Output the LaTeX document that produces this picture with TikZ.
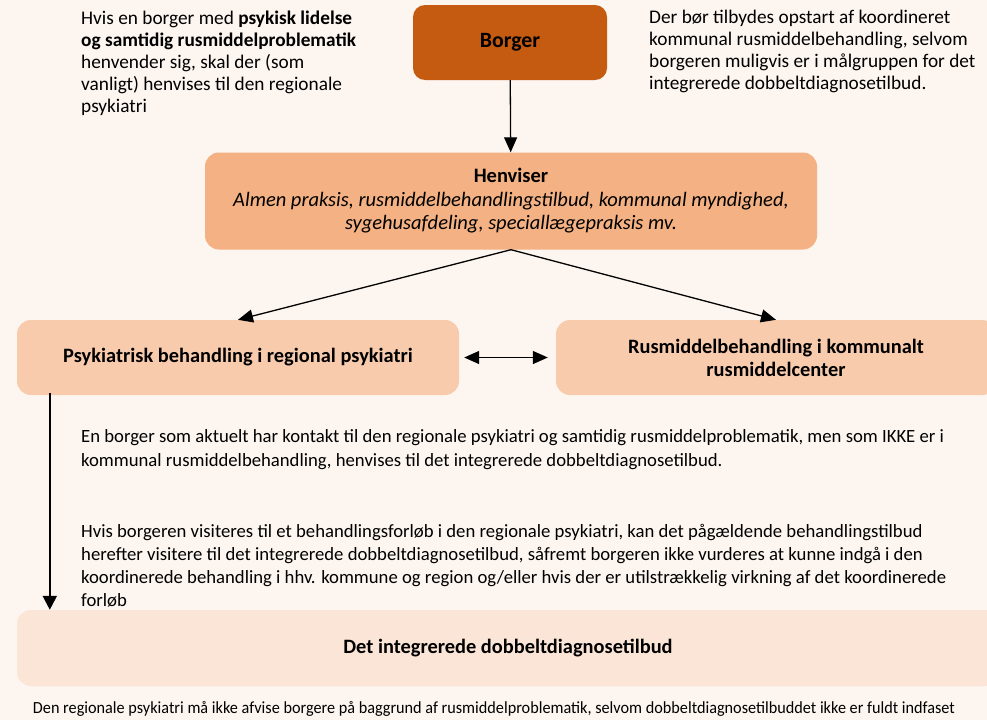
\documentclass[tikz,border=0pt]{standalone}
\usepackage{fontspec}
\setmainfont{Carlito}
\usetikzlibrary{arrows.meta,calc}
\definecolor{bg}{HTML}{FDF5EF}
\definecolor{cborger}{HTML}{C55A11}
\definecolor{chenv}{HTML}{F4B183}
\definecolor{cmid}{HTML}{F8CBAD}
\definecolor{cbot}{HTML}{FBE5D6}
\tikzset{
  box/.style={rectangle, rounded corners=14pt, draw=none, align=center, inner sep=0pt},
  note/.style={anchor=north west, align=left, inner sep=0pt, font=\fontsize{19.3}{22}\selectfont},
  arr/.style={line width=1.3pt, -{Triangle[length=15pt,width=13pt]}},
  darr/.style={line width=1.3pt, {Triangle[length=15pt,width=13pt]}-{Triangle[length=15pt,width=13pt]}},
}
\begin{document}
\begin{tikzpicture}[x=1pt,y=-1pt]
\fill[bg] (0,0) rectangle (987,720);
\useasboundingbox (0,0) rectangle (987,720);

\node[box, fill=cborger, rounded corners=12pt, minimum width=194pt, minimum height=75pt,
  font=\fontsize{21.8}{24}\selectfont\bfseries] (borger) at (510,42.5) {Borger};

\node[box, fill=chenv, minimum width=612pt, minimum height=97pt,
  font=\fontsize{20.5}{23.5}\selectfont] (henv) at (511,201)
  {\textbf{Henviser}\\ \textit{Almen praksis, rusmiddelbehandlingstilbud, kommunal myndighed,}\\ \textit{sygehusafdeling, speciallægepraksis mv.}};

\node[box, fill=cmid, minimum width=442pt, minimum height=75pt,
  font=\fontsize{20.4}{23}\selectfont\bfseries] (psy) at (238,357.5)
  {Psykiatrisk behandling i regional psykiatri};

\node[box, fill=cmid, minimum width=440pt, minimum height=75pt,
  font=\fontsize{20.4}{23}\selectfont\bfseries] (rus) at (776,357.5)
  {Rusmiddelbehandling i kommunalt\\ rusmiddelcenter};

\node[box, fill=cbot, minimum width=982pt, minimum height=76pt,
  font=\fontsize{20.4}{22}\selectfont\bfseries] (dob) at (508,648)
  {Det integrerede dobbeltdiagnosetilbud};

\node[note] (tl) at (81,11)
  {Hvis en borger med \textbf{psykisk lidelse}\\ \textbf{og samtidig rusmiddelproblematik}\\ henvender sig, skal der (som\\ vanligt) henvises til den regionale\\ psykiatri};

\node[note] (tr) at (649,10)
  {Der bør tilbydes opstart af koordineret\\ kommunal rusmiddelbehandling, selvom\\ borgeren muligvis er i målgruppen for det\\ integrerede dobbeltdiagnosetilbud.};

\node[note, font=\fontsize{18.7}{24}\selectfont] (m1) at (81,429)
  {En borger som aktuelt har kontakt til den regionale psykiatri og samtidig rusmiddelproblematik, men som IKKE er i\\ kommunal rusmiddelbehandling, henvises til det integrerede dobbeltdiagnosetilbud.};

\node[note, font=\fontsize{18.7}{23}\selectfont] (m2) at (81,524)
  {Hvis borgeren visiteres til et behandlingsforløb i den regionale psykiatri, kan det pågældende behandlingstilbud\\ herefter visitere til det integrerede dobbeltdiagnosetilbud, såfremt borgeren ikke vurderes at kunne indgå i den\\ koordinerede behandling i hhv. kommune og region og/eller hvis der er utilstrækkelig virkning af det koordinerede\\ forløb};

\node[inner sep=0pt, font=\fontsize{17}{20}\selectfont] (cap) at (494,709)
  {\resizebox{922pt}{\height}{Den regionale psykiatri må ikke afvise borgere på baggrund af rusmiddelproblematik, selvom dobbeltdiagnosetilbuddet ikke er fuldt indfaset}};

\draw[arr] (borger) -- (henv);
\draw[arr] (henv.south) -- (psy.north);
\draw[arr] (henv.south) -- (rus.north);
\draw[darr, shorten <=5pt, shorten >=8pt] (psy.east) -- (rus.west);
\draw[line width=2.2pt, -{Triangle[length=14pt,width=14pt]}]
  ($(psy.south west)+(33,-2)$) -- ($(dob.north west)+(33,0)$);
\end{tikzpicture}
\end{document}
